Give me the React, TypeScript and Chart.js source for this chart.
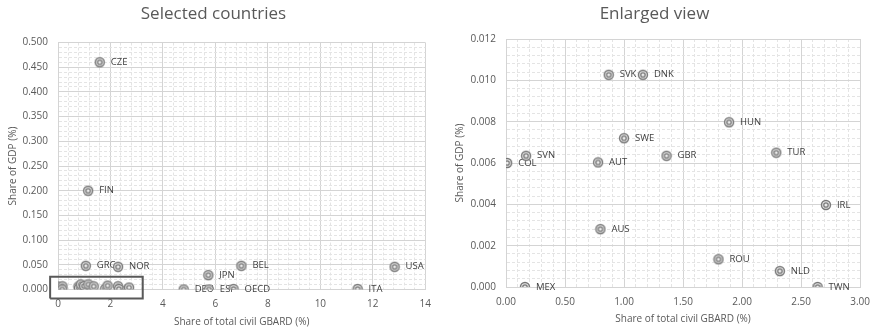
import React, { useEffect, useRef } from 'react';
import { Chart, registerables } from 'chart.js';

Chart.register(...registerables);

// ---- Data ----
const mainCodes = ['CZE', 'FIN', 'GRC', 'NOR', 'JPN', 'BEL', 'USA', 'DEU', 'ESP', 'OECD', 'ITA'];
const mainGbard = [1.59, 1.15, 1.06, 2.29, 5.73, 6.99, 12.83, 4.79, 5.75, 6.69, 11.42];
const mainGdp = [0.46, 0.2, 0.048, 0.046, 0.029, 0.048, 0.046, 0.0, 0.0, 0.001, 0.001];

const smallCodes = ['COL', 'SVN', 'MEX', 'AUT', 'AUS', 'SVK', 'SWE', 'DNK', 'GBR', 'ROU', 'HUN', 'TUR', 'NLD', 'TWN', 'IRL'];
const smallGbard = [0.01, 0.17, 0.16, 0.78, 0.8, 0.87, 1.0, 1.16, 1.36, 1.8, 1.89, 2.29, 2.32, 2.64, 2.71];
const smallGdp = [0.006, 0.00635, 0.0, 0.00603, 0.0028, 0.01027, 0.0072, 0.01027, 0.00635, 0.00134, 0.00797, 0.0065, 0.00077, 0.0, 0.00397];

// zoom frame on the left panel (data units)
const zoomBoxX = [-0.3, 3.23, 3.23, -0.3, -0.3];
const zoomBoxY = [-0.018, -0.018, 0.026, 0.026, -0.018];

// axes: [min, max, major step, minor step]
const leftXAxis = [0, 14, 2, 0.4];
const leftYAxis = [0, 0.5, 0.05, 0.01];
const rightXAxis = [0, 3, 0.5, 0.1];
const rightYAxis = [0, 0.012, 0.002, 0.0004];

const leftTitle = 'Selected countries';
const rightTitle = 'Enlarged view';
const xTitle = 'Share of total civil GBARD (%)';
const yTitle = 'Share of GDP (%)';

const FONT = '"Open Sans", "Noto Sans", sans-serif';
const TEXT = '#595959';

function isMajor(v: number, major: number) {
  return Math.abs(v / major - Math.round(v / major)) < 1e-6;
}

function makeMarker(): HTMLCanvasElement {
  const c = document.createElement('canvas');
  c.width = 12;
  c.height = 12;
  const g = c.getContext('2d')!;
  g.beginPath();
  g.arc(6, 6, 5.2, 0, Math.PI * 2);
  g.fillStyle = '#ececec';
  g.fill();
  g.beginPath();
  g.arc(6, 6, 4.5, 0, Math.PI * 2);
  g.strokeStyle = '#767676';
  g.lineWidth = 1.4;
  g.stroke();
  g.beginPath();
  g.arc(6, 6, 2.2, 0, Math.PI * 2);
  g.strokeStyle = '#7a7a7a';
  g.lineWidth = 1.3;
  g.stroke();
  return c;
}

const labelPlugin = {
  id: 'pointLabels',
  beforeDatasetsDraw(chart: any) {
    const ctx = chart.ctx;
    chart.data.datasets.forEach((ds: any, di: number) => {
      const labels = ds.pointLabels;
      if (!labels) return;
      const meta = chart.getDatasetMeta(di);
      meta.data.forEach((el: any, i: number) => {
        ctx.save();
        ctx.font = `9.5px ${FONT}`;
        ctx.fillStyle = '#404040';
        ctx.textBaseline = 'middle';
        ctx.textAlign = 'left';
        ctx.fillText(labels[i], el.x + 11, el.y);
        ctx.restore();
      });
    });
  },
};

function makeAxis(
  spec: number[],
  fmt: (v: number) => string,
  title: string,
  isX: boolean,
  size: number,
  tickPad: number,
  titlePad: number
) {
  const [min, max, major, minor] = spec;
  return {
    type: 'linear',
    position: isX ? 'bottom' : 'left',
    min,
    max,
    afterFit: (s: any) => {
      if (isX) s.height = size;
      else s.width = size;
    },
    ticks: {
      stepSize: minor,
      autoSkip: false,
      maxRotation: 0,
      padding: tickPad,
      color: TEXT,
      font: { family: FONT, size: 10 },
      callback: (v: any) => (isMajor(Number(v), major) ? fmt(Number(v)) : ''),
    },
    grid: {
      drawTicks: false,
      color: (ctx: any) =>
        ctx.tick && !isMajor(ctx.tick.value, major) ? '#e4e4e4' : '#d4d4d4',
      lineWidth: 1,
    },
    border: {
      display: true,
      color: '#d4d4d4',
      dash: (ctx: any) => (ctx.tick && !isMajor(ctx.tick.value, major) ? [3, 2] : []),
    },
    title: {
      display: true,
      text: title,
      color: TEXT,
      font: { family: FONT, size: 10 },
      padding: isX ? { top: 0, bottom: titlePad } : { top: titlePad, bottom: 0 },
    },
  };
}

function toPoints(xs: number[], ys: number[]) {
  return xs.map((x, i) => ({ x, y: ys[i] }));
}

function leftConfig(marker: HTMLCanvasElement): any {
  return {
    type: 'scatter',
    data: {
      datasets: [
        {
          data: toPoints(mainGbard, mainGdp),
          pointLabels: mainCodes,
          pointStyle: marker,
          pointRadius: 5,
        },
        {
          data: toPoints(smallGbard, smallGdp),
          pointStyle: marker,
          pointRadius: 5,
        },
        {
          data: toPoints(zoomBoxX, zoomBoxY),
          showLine: true,
          borderColor: '#595959',
          borderWidth: 2,
          pointRadius: 0,
          fill: false,
          clip: false,
        },
      ],
    },
    options: {
      responsive: false,
      animation: false,
      events: [],
      layout: { padding: { left: 0, right: 13, top: 0, bottom: 0 } },
      plugins: {
        legend: { display: false },
        tooltip: { enabled: false },
        title: {
          display: true,
          text: leftTitle,
          color: TEXT,
          font: { family: FONT, size: 17, weight: 'normal' },
          padding: { top: 4.3, bottom: 17.8 },
        },
      },
      scales: {
        x: makeAxis(leftXAxis, (v) => String(Math.round(v)), xTitle, true, 40.5, 9, 2.3),
        y: makeAxis(leftYAxis, (v) => v.toFixed(3), yTitle, false, 58, 10, 7),
      },
    },
    plugins: [labelPlugin],
  };
}

function rightConfig(marker: HTMLCanvasElement): any {
  return {
    type: 'scatter',
    data: {
      datasets: [
        {
          data: toPoints(smallGbard, smallGdp),
          pointLabels: smallCodes,
          pointStyle: marker,
          pointRadius: 5,
        },
      ],
    },
    options: {
      responsive: false,
      animation: false,
      events: [],
      layout: { padding: { left: 0, right: 10, top: 0, bottom: 0 } },
      plugins: {
        legend: { display: false },
        tooltip: { enabled: false },
        title: {
          display: true,
          text: rightTitle,
          color: TEXT,
          font: { family: FONT, size: 17, weight: 'normal' },
          padding: { top: 3.8, bottom: 14.8 },
        },
      },
      scales: {
        x: makeAxis(rightXAxis, (v) => v.toFixed(2), xTitle, true, 43, 9, 5),
        y: makeAxis(rightYAxis, (v) => v.toFixed(3), yTitle, false, 66, 10, 14.3),
      },
    },
    plugins: [labelPlugin],
  };
}

function Panel({ width, build }: { width: number; build: (m: HTMLCanvasElement) => any }) {
  const ref = useRef<HTMLCanvasElement | null>(null);
  useEffect(() => {
    if (!ref.current) return;
    const chart = new Chart(ref.current, build(makeMarker()));
    return () => chart.destroy();
  }, []);
  return (
    <canvas
      ref={ref}
      width={width}
      height={330}
      style={{ display: 'block', width: `${width}px`, height: '330px' }}
    />
  );
}

export default function App() {
  useEffect(() => {
    document.body.style.margin = '0';
    document.body.style.background = '#ffffff';
  }, []);
  return (
    <div style={{ display: 'flex', width: 879, height: 330, background: '#fff' }}>
      <Panel width={440} build={leftConfig} />
      <Panel width={439} build={rightConfig} />
    </div>
  );
}
